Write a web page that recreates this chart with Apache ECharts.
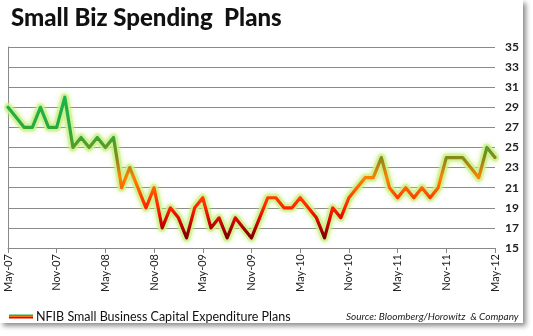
<!DOCTYPE html>
<html>
<head>
<meta charset="utf-8">
<script src="https://cdn.jsdelivr.net/npm/echarts@6/dist/echarts.min.js"></script>
<style>
html,body{margin:0;padding:0;background:#fff;}
#c{width:533px;height:336px;}
</style>
</head>
<body>
<div id="c"></div>
<script>
const months = ["May-07","Jun-07","Jul-07","Aug-07","Sep-07","Oct-07","Nov-07","Dec-07",
"Jan-08","Feb-08","Mar-08","Apr-08","May-08","Jun-08","Jul-08","Aug-08","Sep-08","Oct-08","Nov-08","Dec-08",
"Jan-09","Feb-09","Mar-09","Apr-09","May-09","Jun-09","Jul-09","Aug-09","Sep-09","Oct-09","Nov-09","Dec-09",
"Jan-10","Feb-10","Mar-10","Apr-10","May-10","Jun-10","Jul-10","Aug-10","Sep-10","Oct-10","Nov-10","Dec-10",
"Jan-11","Feb-11","Mar-11","Apr-11","May-11","Jun-11","Jul-11","Aug-11","Sep-11","Oct-11","Nov-11","Dec-11",
"Jan-12","Feb-12","Mar-12","Apr-12","May-12"];
const capexPlans = [29,28,27,27,29,27,27,30,
25,26,25,26,25,26,21,23,21,19,21,17,
19,18,16,19,20,17,18,16,18,17,16,18,
20,20,19,19,20,19,18,16,19,18,20,21,
22,22,24,21,20,21,20,21,20,21,24,24,
24,23,22,25,24];
const seriesName = "NFIB Small Business Capital Expenditure Plans";
const titleText = "Small Biz Spending  Plans";
const sourceText = "Source: Bloomberg/Horowitz  & Company";
const lineColors = ["#7a0000","#b00000","#e00800","#ff2200","#ff3c00","#ff6400","#ff8000",
"#c08410","#858a18","#5c9a28","#3ea236","#2aa840","#22ad46","#1eb04a","#1db34c"];

const chart = echarts.init(document.getElementById('c'), null, {renderer:'canvas'});
const FONT = 'Lato, "Open Sans", sans-serif';
chart.setOption({
  backgroundColor: 'transparent',
  animation: false,
  graphic: [{
    type: 'rect', z: -10, silent: true,
    shape: {x: 0, y: 0, width: 523, height: 323},
    style: {fill: '#fff', shadowBlur: 5, shadowOffsetX: 3, shadowOffsetY: 3, shadowColor: 'rgba(0,0,0,0.45)'}
  }],
  title: [{
    text: titleText, left: 6, top: 1,
    textStyle: {fontFamily: FONT, fontWeight: 900, fontSize: 24, color: '#111'}
  },{
    text: sourceText, left: 341, top: 307,
    textStyle: {fontFamily: FONT, fontStyle: 'italic', fontWeight: 'normal', fontSize: 10, color: '#222'}
  }],
  legend: {
    left: 4, top: 305, icon: 'rect', itemWidth: 24, itemHeight: 4, itemGap: 3,
    textStyle: {fontFamily: FONT, fontSize: 12.5, color: '#111', padding: [0,0,0,-2]},
    data: [{name: seriesName, itemStyle: {color: new echarts.graphic.LinearGradient(0,0,0,1,[
      {offset:0,color:'#1db34c'},{offset:0.34,color:'#1db34c'},{offset:0.34,color:'#ff7000'},
      {offset:0.66,color:'#ff7000'},{offset:0.66,color:'#e00000'},{offset:1,color:'#e00000'}])}}]
  },
  grid: {left: 8, right: 38, top: 47, bottom: 88, containLabel: false},
  visualMap: {
    show: false, type: 'continuous', min: 16, max: 30, dimension: 1, seriesIndex: 1,
    inRange: {color: lineColors}
  },
  xAxis: {
    type: 'category', data: months, boundaryGap: false,
    axisLine: {lineStyle: {color: '#888', width: 1}},
    axisTick: {interval: 5, length: 5, lineStyle: {color: '#888'}},
    axisLabel: {interval: 5, rotate: 90, margin: 6, fontFamily: FONT, fontSize: 11, color: '#222'},
    splitLine: {show: false}
  },
  yAxis: [{
    type: 'value', min: 15, max: 35, interval: 2, position: 'left',
    axisLine: {show: true, lineStyle: {color: '#888'}},
    axisTick: {show: false},
    axisLabel: {show: false},
    splitLine: {show: true, lineStyle: {color: '#8a8a8a', width: 1}}
  },{
    type: 'value', min: 15, max: 35, interval: 2, position: 'right',
    axisLine: {show: false}, axisTick: {show: false},
    axisLabel: {margin: 10, fontFamily: FONT, fontWeight: 'bold', fontSize: 12, color: '#222'},
    splitLine: {show: false}
  }],
  series: [{
    name: 'glow', type: 'line', data: capexPlans, yAxisIndex: 0,
    showSymbol: false, symbol: 'none', silent: true, z: 1,
    lineStyle: {width: 8, color: 'rgba(205,240,140,0.75)', shadowColor: 'rgba(190,235,110,0.9)', shadowBlur: 5, cap: 'round', join: 'round'}
  },{
    name: seriesName, type: 'line', data: capexPlans, yAxisIndex: 0,
    showSymbol: false, symbol: 'none', z: 3,
    lineStyle: {width: 3.2, cap: 'round', join: 'round'}
  }]
});
</script>
</body>
</html>
